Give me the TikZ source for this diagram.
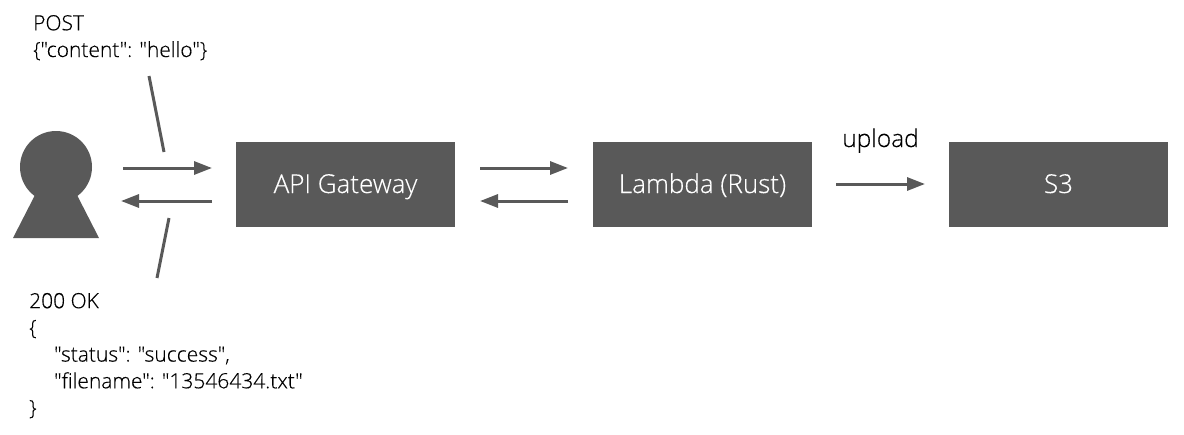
\documentclass[tikz,border=0pt]{standalone}
\usepackage{fontspec}
\setmainfont{Open Sans}[UprightFont=* Light,UprightFeatures={FakeBold=0.3},Ligatures=TeXOff]
\usetikzlibrary{arrows.meta}
\definecolor{dk}{HTML}{595959}
\tikzset{
  x=1pt,y=-1pt,
  box/.style={draw=none,fill=dk,text=white,minimum width=219pt,minimum height=85pt,inner sep=0pt,text height=17pt,text depth=0pt,font=\fontsize{26}{30}\selectfont},
  link/.style={draw=dk,line width=3pt,-{Triangle[length=18pt,width=13pt]}},
  callout/.style={draw=dk,line width=3pt},
  label/.style={inner sep=0pt,anchor=base west,align=left,font=\fontsize{21}{26.7}\selectfont,text=black},
}
\begin{document}
\begin{tikzpicture}
\useasboundingbox (0,0) rectangle (1184,434);
\fill[white] (0,0) rectangle (1184,434);
% person
\fill[dk] (56,167) circle[radius=36];
\fill[dk] (13,238) -- (99,238) -- (56,154) -- cycle;
\node[box] (gw) at (345.5,184.5) {API Gateway};
\node[box] (lam) at (702.5,184.5) {Lambda (Rust)};
\node[box] (s3) at (1058.5,184.5) {S3};
\coordinate (pa) at (123,168); \coordinate (pb) at (212,168);
\coordinate (qa) at (212,201); \coordinate (qb) at (121,201);
\coordinate (ra) at (480,168); \coordinate (rb) at (568,168);
\coordinate (sa) at (568,201); \coordinate (sb) at (480,201);
\coordinate (ua) at (836,184); \coordinate (ub) at (925,184);
\draw[link] (pa) -- (pb);
\draw[link] (qa) -- (qb);
\draw[link] (ra) -- (rb);
\draw[link] (sa) -- (sb);
\draw[link] (ua) -- (ub);
\coordinate (c1a) at (149,76); \coordinate (c1b) at (164,152);
\coordinate (c2a) at (169,218); \coordinate (c2b) at (157,278);
\draw[callout] (c1a) -- (c1b);
\draw[callout] (c2a) -- (c2b);
\node[label] (req) at (33,57) {POST\\\{"content": "hello"\}};
\node[label] (resp) at (29,415) {200 OK\\\{\\\hspace*{25pt}"status": "success",\\\hspace*{25pt}"filename": "13546434.txt"\\\}};
\node[inner sep=0pt,anchor=base,font=\fontsize{24.5}{28}\selectfont] (up) at (880.5,147) {upload};
\end{tikzpicture}
\end{document}
